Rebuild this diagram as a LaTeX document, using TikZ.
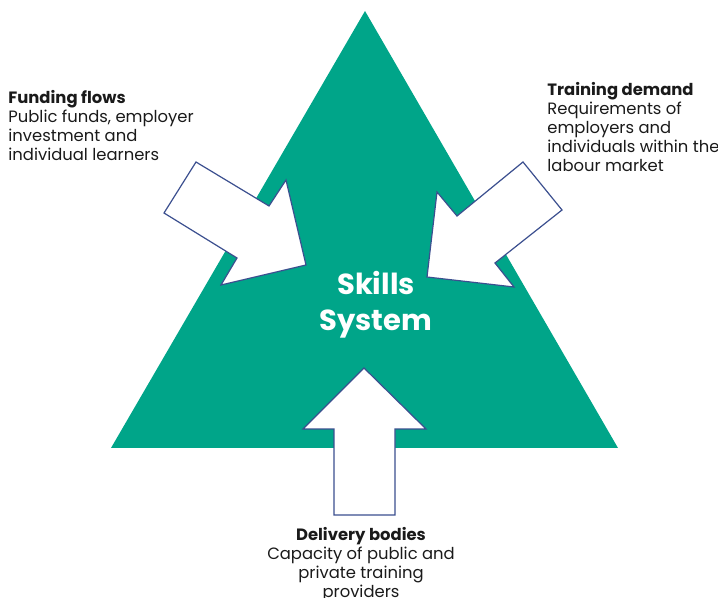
\documentclass[tikz,border=0pt]{standalone}
\usepackage{fontspec}
\setmainfont{Poppins}
\usetikzlibrary{positioning}
\definecolor{systemTeal}{HTML}{00A589}
\definecolor{arrowEdge}{HTML}{3B4F8F}
\definecolor{labelText}{HTML}{1A1A1A}
\tikzstyle{canvas} = [x = .5pt, y = -.5pt]
\tikzstyle{triangleStyle} = [fill=systemTeal, draw=none]
\tikzstyle{blockArrow} = [fill=white, draw=arrowEdge, line width=.6pt, line join=miter]
\tikzstyle{sideLabel} = [inner sep=0pt, align=left, text=labelText, font=\fontsize{8.2}{9.5}\selectfont]
\tikzstyle{centreLabel} = [inner sep=0pt, align=center, text=white, font=\fontsize{14.5}{18}\selectfont\bfseries]
\newcommand{\labelHead}[1]{\textbf{#1}}
\begin{document}
\begin{tikzpicture}[canvas]
  \useasboundingbox (0,0) rectangle (718,598);
  % triangle
  \filldraw [triangleStyle] (365,11) -- (618,448) -- (111,448) -- cycle;
  % arrows into the system
  \filldraw [blockArrow] (196,162) -- (269,206) -- (286,180) -- (306,265) -- (221,285) -- (237,258) -- (164,213) -- cycle;
  \filldraw [blockArrow] (523,162) -- (562,210) -- (495,263) -- (514,287) -- (427,277) -- (437,192) -- (457,216) -- cycle;
  \filldraw [blockArrow] (364,368) -- (426,429) -- (395,429) -- (395,515) -- (334,515) -- (334,429) -- (303,429) -- cycle;
  % labels
  \node [centreLabel] (system) at (376,305) {Skills\\System};
  \node [sideLabel, anchor=north west] (funding) at (8,90) {\labelHead{Funding flows}\\Public funds, employer\\investment and\\individual learners};
  \node [sideLabel, anchor=north west] (demand) at (547,82) {\labelHead{Training demand}\\Requirements of\\employers and\\individuals within the\\labour market};
  \node [sideLabel, align=center, anchor=north] (delivery) at (361,527) {\labelHead{Delivery bodies}\\Capacity of public and\\private training\\providers};
\end{tikzpicture}
\end{document}
